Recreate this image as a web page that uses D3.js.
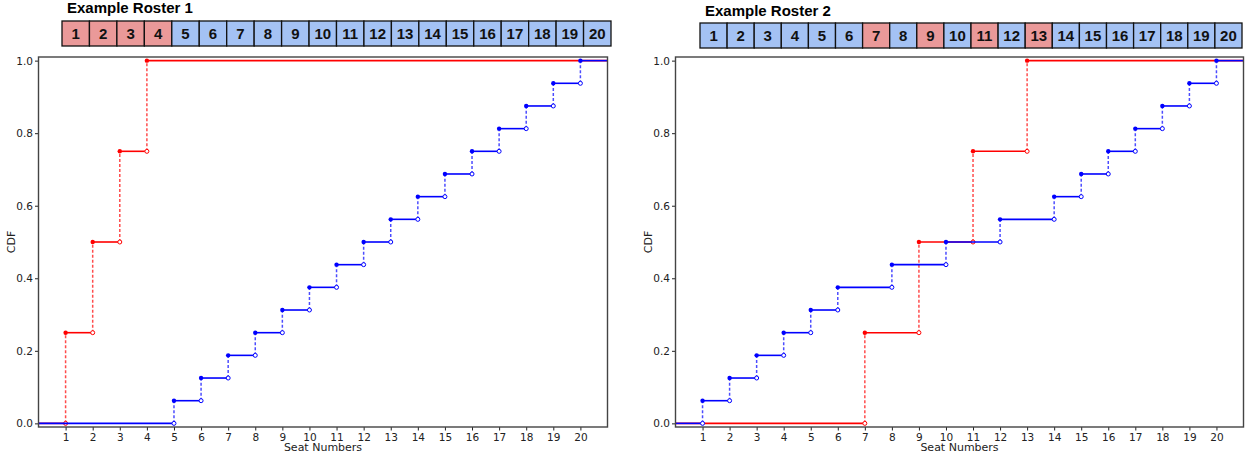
<!DOCTYPE html>
<html lang="en">
<head>
  <meta charset="UTF-8">
  <style>
    body { margin: 0; background: #fff; overflow: hidden; }
    svg { display: block; }
    .tick text { font-family: "DejaVu Sans", sans-serif; font-size: 10.5px; fill: #222; }
    .seat text { font-family: "Liberation Sans", Arial, sans-serif; font-weight: bold; font-size: 15px; }
    .title { font-family: "Liberation Sans", Arial, sans-serif; font-weight: bold; font-size: 15px; }
    .axis-label { font-family: "DejaVu Sans", sans-serif; font-size: 11px; fill: #222; }
  </style>
  <script src="https://d3js.org/d3.v7.min.js"></script>
</head>
<body>
<svg id="chart"></svg>
<script>
  // seat numbers shown in both rosters
  const seats = [1, 2, 3, 4, 5, 6, 7, 8, 9, 10, 11, 12, 13, 14, 15, 16, 17, 18, 19, 20];
  const xTicks = [1, 2, 3, 4, 5, 6, 7, 8, 9, 10, 11, 12, 13, 14, 15, 16, 17, 18, 19, 20];
  const yTicks = [0.0, 0.2, 0.4, 0.6, 0.8, 1.0];

  // which seats belong to each group
  const roster1Red = [1, 2, 3, 4];
  const roster1Blue = [5, 6, 7, 8, 9, 10, 11, 12, 13, 14, 15, 16, 17, 18, 19, 20];
  const roster2Red = [7, 9, 11, 13];
  const roster2Blue = [1, 2, 3, 4, 5, 6, 8, 10, 12, 14, 15, 16, 17, 18, 19, 20];

  const RED_FILL = "#ea9999", BLUE_FILL = "#a4c2f4";
  const RED = "#ff0000", BLUE = "#0000ff";

  const svg = d3.select("#chart").attr("width", 1248).attr("height", 457);

  function drawRoster(title, red, box) {
    const g = svg.append("g");
    const x = d3.scaleBand().domain(seats).range([box.x0, box.x1]);

    g.append("text").attr("class", "title")
      .attr("x", box.x0 + 5).attr("y", box.titleY)
      .text(title);

    const cell = g.selectAll(".seat").data(seats).enter()
      .append("g").attr("class", "seat");

    cell.append("rect")
      .attr("x", d => x(d))
      .attr("y", box.y0)
      .attr("width", x.bandwidth())
      .attr("height", box.y1 - box.y0)
      .attr("fill", d => red.includes(d) ? RED_FILL : BLUE_FILL)
      .attr("stroke", "#111")
      .attr("stroke-width", 1.3);

    cell.append("text")
      .attr("x", d => x(d) + x.bandwidth() / 2)
      .attr("y", (box.y0 + box.y1) / 2 + 5.5)
      .attr("text-anchor", "middle")
      .attr("fill", "#111")
      .text(d => d);
  }

  // empirical CDF steps for one group
  function drawSeries(g, x, y, pts, color) {
    const n = pts.length;
    const levels = [0].concat(pts.map((p, i) => (i + 1) / n));
    const edges = [0].concat(pts, [21]);

    // solid horizontal parts
    g.selectAll(null).data(levels).enter().append("line")
      .attr("x1", (d, i) => x(edges[i]))
      .attr("x2", (d, i) => x(edges[i + 1]))
      .attr("y1", d => y(d)).attr("y2", d => y(d))
      .attr("stroke", color).attr("stroke-width", 1.6);

    // dashed risers
    g.selectAll(null).data(pts).enter().append("line")
      .attr("x1", d => x(d)).attr("x2", d => x(d))
      .attr("y1", (d, i) => y(levels[i]))
      .attr("y2", (d, i) => y(levels[i + 1]))
      .attr("stroke", color).attr("stroke-width", 1.5)
      .attr("stroke-opacity", 0.7)
      .attr("stroke-dasharray", "3,2");

    // open marker at bottom of each jump
    g.selectAll(null).data(pts).enter().append("circle")
      .attr("cx", d => x(d)).attr("cy", (d, i) => y(levels[i]))
      .attr("r", 2).attr("fill", "#fff")
      .attr("stroke", color).attr("stroke-width", 1);

    // filled marker at top of each jump
    g.selectAll(null).data(pts).enter().append("circle")
      .attr("cx", d => x(d)).attr("cy", (d, i) => y(levels[i + 1]))
      .attr("r", 2.2).attr("fill", color);
  }

  function drawPanel(red, blue, area) {
    const g = svg.append("g");
    const x = d3.scaleLinear().domain([0, 21]).range([area.x0, area.x1]);
    const y = d3.scaleLinear().domain([-0.01, 1.01]).range([area.y1, area.y0]);

    const plot = g.append("g");
    drawSeries(plot, x, y, red, RED);
    drawSeries(plot, x, y, blue, BLUE);

    const xAxis = g.append("g")
      .attr("transform", `translate(0,${area.y1})`)
      .call(d3.axisBottom(x).tickValues(xTicks).tickSize(3.5).tickPadding(3));
    const yAxis = g.append("g")
      .attr("transform", `translate(${area.x0},0)`)
      .call(d3.axisLeft(y).tickValues(yTicks).tickFormat(d3.format(".1f")).tickSize(3.5).tickPadding(2));
    [xAxis, yAxis].forEach(a => {
      a.select(".domain").remove();
      a.selectAll(".tick line").attr("stroke", "#222");
    });

    g.append("rect")
      .attr("x", area.x0).attr("y", area.y0)
      .attr("width", area.x1 - area.x0).attr("height", area.y1 - area.y0)
      .attr("fill", "none").attr("stroke", "#444").attr("stroke-width", 1.4);

    g.append("text").attr("class", "axis-label")
      .attr("x", (area.x0 + area.x1) / 2).attr("y", area.y1 + 24)
      .attr("text-anchor", "middle").text("Seat Numbers");

    g.append("text").attr("class", "axis-label")
      .attr("transform", `translate(${area.x0 - 24},${(area.y0 + area.y1) / 2}) rotate(-90)`)
      .attr("text-anchor", "middle").text("CDF");
  }

  drawRoster("Example Roster 1", roster1Red, { x0: 62, x1: 611, y0: 21, y1: 46, titleY: 13 });
  drawRoster("Example Roster 2", roster2Red, { x0: 700, x1: 1242, y0: 23, y1: 48, titleY: 16 });

  drawPanel(roster1Red, roster1Blue, { x0: 38.5, x1: 607.5, y0: 57, y1: 427 });
  drawPanel(roster2Red, roster2Blue, { x0: 675.5, x1: 1243.5, y0: 57, y1: 427 });
</script>
</body>
</html>
